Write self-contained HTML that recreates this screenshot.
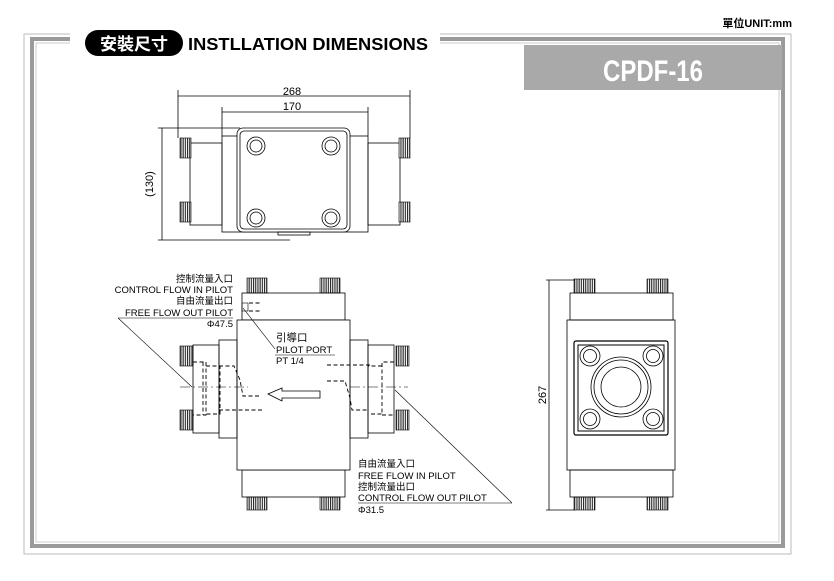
<!DOCTYPE html>
<html><head><meta charset="utf-8"><style>
html,body{margin:0;padding:0;background:#fff;width:834px;height:581px;overflow:hidden}
svg{display:block}
text{font-family:"Liberation Sans","Noto Sans CJK TC",sans-serif;fill:#000}
</style></head><body>
<svg width="834" height="581" viewBox="0 0 834 581" xmlns="http://www.w3.org/2000/svg">
<defs>
<pattern id="knurl" width="2.2" height="4" patternUnits="userSpaceOnUse"><rect width="2.2" height="4" fill="#fff"/><rect width="1.1" height="4" fill="#222"/></pattern>
</defs>
<!-- frame -->
<rect x="24" y="34" width="767" height="520" fill="none" stroke="#bbb" stroke-width="1"/>
<rect x="32" y="39" width="751" height="507" fill="none" stroke="#9a9a9a" stroke-width="4"/>
<rect x="36" y="43" width="743" height="499" fill="none" stroke="#ccc" stroke-width="1"/>
<rect x="70" y="28" width="370" height="22" fill="#fff"/>
<rect x="524" y="45" width="258" height="45" fill="#a9a9a9"/>
<text x="603" y="81" font-size="30" font-weight="bold" style="fill:#fff" textLength="100" lengthAdjust="spacingAndGlyphs">CPDF-16</text>
<rect x="85" y="30" width="98" height="26" rx="13" fill="#000"/>
<text x="134" y="50" font-size="17" font-weight="bold" style="fill:#fff" text-anchor="middle">安裝尺寸</text>
<text x="188" y="50" font-size="17.5" font-weight="bold" textLength="240" lengthAdjust="spacingAndGlyphs">INSTLLATION DIMENSIONS</text>
<text x="792" y="27" font-size="11" font-weight="bold" text-anchor="end">單位UNIT:mm</text>

<g stroke="#000" stroke-width="0.8" fill="none">
<!-- top view -->
<line x1="178" y1="96" x2="410" y2="96"/><line x1="178" y1="90" x2="178" y2="138"/><line x1="410" y1="90" x2="410" y2="138"/>
<line x1="222" y1="112" x2="368" y2="112"/><line x1="222" y1="107" x2="222" y2="136"/><line x1="368" y1="107" x2="368" y2="136"/>
<line x1="162" y1="128" x2="162" y2="240"/><line x1="158" y1="128" x2="240" y2="128"/><line x1="158" y1="240" x2="290" y2="240"/>
<rect x="190" y="143" width="32" height="82"/><rect x="368" y="143" width="32" height="82"/>
<rect x="222" y="136" width="146" height="96"/>
<rect x="237" y="128" width="113" height="104" rx="6" fill="#fff"/>
<rect x="240" y="131" width="107" height="98" rx="4"/>
<rect x="278" y="232" width="32" height="3"/>
<circle cx="256" cy="146" r="9"/><circle cx="256" cy="146" r="6"/>
<circle cx="331" cy="146" r="9"/><circle cx="331" cy="146" r="6"/>
<circle cx="256" cy="218" r="9"/><circle cx="256" cy="218" r="6"/>
<circle cx="331" cy="218" r="9"/><circle cx="331" cy="218" r="6"/>
</g>
<g fill="url(#knurl)" stroke="#000" stroke-width="0.6">
<rect x="180" y="138" width="11" height="20"/><rect x="180" y="202" width="11" height="20"/>
<rect x="399" y="138" width="11" height="20"/><rect x="399" y="202" width="11" height="20"/>
<rect x="247" y="278" width="20" height="15"/><rect x="320" y="278" width="20" height="15"/>
<rect x="247" y="497" width="20" height="13"/><rect x="320" y="497" width="20" height="13"/>
<rect x="180" y="346" width="13" height="20"/><rect x="180" y="410" width="13" height="20"/>
<rect x="396" y="346" width="13" height="20"/><rect x="396" y="410" width="13" height="20"/>
<rect x="574" y="279" width="21" height="14"/><rect x="647" y="279" width="21" height="14"/>
<rect x="574" y="497" width="21" height="13"/><rect x="647" y="497" width="21" height="13"/>
</g>
<text x="292" y="95" font-size="11" text-anchor="middle">268</text>
<text x="292" y="110" font-size="11" text-anchor="middle">170</text>
<text transform="translate(153,184) rotate(-90)" font-size="11" text-anchor="middle">(130)</text>

<!-- front view -->
<g stroke="#000" stroke-width="0.8" fill="none">
<rect x="242" y="293" width="103" height="27"/>
<rect x="242" y="470" width="103" height="27"/>
<rect x="237" y="320" width="113" height="150" fill="#fff"/>
<rect x="219" y="340" width="18" height="98"/><rect x="350" y="340" width="18" height="98"/>
<rect x="193" y="345" width="26" height="88"/><rect x="368" y="345" width="26" height="88"/>
</g>
<g stroke="#000" stroke-width="0.9" fill="none" stroke-dasharray="4,2.5">
<path d="M193 362 L206 362 L206 415 L193 415"/><path d="M203 362 L203 415"/>
<path d="M206 366 L220 366 L220 414 L206 414"/>
<path d="M219 366 L234 366 L240 380 L243 396 L260 396"/>
<path d="M219 410 L262 410"/>
<path d="M394 362 L382 362 L382 415 L394 415"/>
<path d="M382 366 L368 366 L368 414 L382 414"/>
<path d="M327 365 L370 365"/>
<path d="M327 381 L345 381 L350 398 L352 410 L368 410"/>
<path d="M249 303 L262 303 M249 311 L262 311"/>
</g>
<g stroke="#000" stroke-width="0.6" fill="none">
<line x1="180" y1="387" x2="248" y2="387" stroke-dasharray="10,3,2,3"/>
<line x1="350" y1="387" x2="408" y2="387" stroke-dasharray="10,3,2,3"/>
<path d="M268 394 L282 388 L282 391 L320 391 L320 398 L282 398 L282 401 Z" stroke-width="0.8"/>
<line x1="118" y1="318" x2="192" y2="387"/>
<line x1="395" y1="390" x2="512" y2="503"/>
<line x1="358" y1="503" x2="512" y2="503"/>
<line x1="118" y1="318" x2="233" y2="318"/>
<line x1="243" y1="308" x2="275" y2="349"/>
<line x1="275" y1="355" x2="335" y2="355"/>
<rect x="242" y="303" width="6" height="8"/>
</g>
<g font-size="9.5">
<text x="233" y="282" text-anchor="end">控制流量入口</text>
<text x="233" y="293" text-anchor="end">CONTROL FLOW IN PILOT</text>
<text x="233" y="304" text-anchor="end">自由流量出口</text>
<text x="233" y="316" text-anchor="end">FREE FLOW OUT PILOT</text>
<text x="233" y="327" text-anchor="end">Φ47.5</text>
<text x="276" y="341" font-size="10.5">引導口</text>
<text x="276" y="353">PILOT PORT</text>
<text x="276" y="364">PT 1/4</text>
<text x="358" y="467">自由流量入口</text>
<text x="358" y="479">FREE FLOW IN PILOT</text>
<text x="358" y="490">控制流量出口</text>
<text x="358" y="501">CONTROL FLOW OUT PILOT</text>
<text x="358" y="513">Φ31.5</text>
</g>

<!-- side view -->
<g stroke="#000" stroke-width="0.8" fill="none">
<line x1="549" y1="280" x2="549" y2="510"/><line x1="546" y1="280" x2="575" y2="280"/><line x1="546" y1="510" x2="575" y2="510"/>
<rect x="570" y="293" width="103" height="27"/>
<rect x="570" y="470" width="103" height="27"/>
<rect x="567" y="320" width="108" height="150"/>
<rect x="574" y="341" width="94" height="94" rx="2" stroke-width="1.2"/>
<rect x="578" y="345" width="86" height="86" stroke-width="1"/>
<circle cx="590" cy="356" r="10"/><circle cx="590" cy="356" r="6.5"/>
<circle cx="653" cy="356" r="10"/><circle cx="653" cy="356" r="6.5"/>
<circle cx="590" cy="419" r="10"/><circle cx="590" cy="419" r="6.5"/>
<circle cx="653" cy="419" r="10"/><circle cx="653" cy="419" r="6.5"/>
<circle cx="621" cy="387" r="30"/><circle cx="621" cy="387" r="27"/><circle cx="621" cy="387" r="20"/>
</g>
<text transform="translate(546,395) rotate(-90)" font-size="11" text-anchor="middle">267</text>
</svg>
</body></html>
